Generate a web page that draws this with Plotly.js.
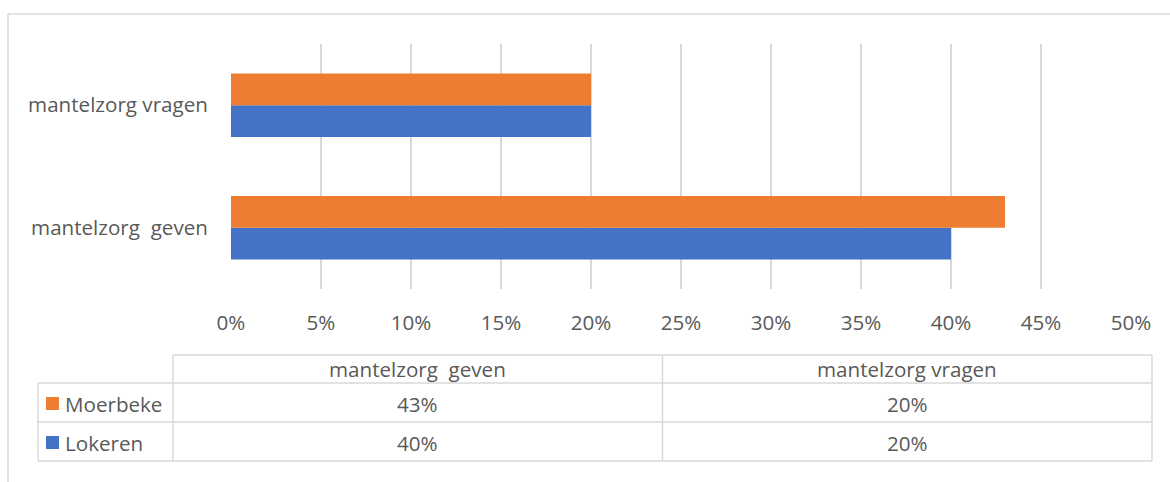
<!DOCTYPE html>
<html>
<head>
<meta charset="utf-8">
<script src="https://cdn.plot.ly/plotly-3.0.1.min.js"></script>
<style>
html,body{margin:0;padding:0;background:#fff;}
#chart{width:1170px;height:482px;}
</style>
</head>
<body>
<div id="chart"></div>
<script>
// ---- data ----
const categories = ['mantelzorg  geven', 'mantelzorg vragen'];
const seriesNames = ['Lokeren', 'Moerbeke'];
const lokeren = [0.40, 0.20];
const moerbeke = [0.43, 0.20];
const seriesColors = ['#4472C4', '#ED7D31'];
const tickValues = [0, 0.05, 0.10, 0.15, 0.20, 0.25, 0.30, 0.35, 0.40, 0.45, 0.50];
const tickLabels = ['0%', '5%', '10%', '15%', '20%', '25%', '30%', '35%', '40%', '45%', '50%'];

// keep repeated spaces visible in SVG text
const label = s => s.replace(/  /g, '\u00a0 ');
const pct = v => Math.round(v * 100) + '%';

const W = 1170, H = 482;
const M = {l: 231, r: 39, t: 44, b: 193};
const plotW = W - M.l - M.r, plotH = H - M.t - M.b;
const px = x => (x - M.l) / plotW;          // pixel x -> paper
const py = y => (H - M.b - y) / plotH;      // pixel y -> paper

const textColor = '#595959';
const lineColor = '#d9d9d9';
const font = {family: '"Open Sans", sans-serif', size: 20.6, color: textColor};

const traces = [
  {type: 'bar', orientation: 'h', name: seriesNames[0], y: categories.map(label), x: lokeren,
   marker: {color: seriesColors[0]}, hoverinfo: 'none'},
  {type: 'bar', orientation: 'h', name: seriesNames[1], y: categories.map(label), x: moerbeke,
   marker: {color: seriesColors[1]}, hoverinfo: 'none'}
];

// ---- data table below the chart ----
const tbl = {left: 38, legRight: 173, right: 1152, headTop: 355, rows: [383, 422, 461]};
const colEdges = [tbl.legRight];
for (let i = 1; i <= categories.length; i++) {
  colEdges.push(tbl.legRight + (tbl.right - tbl.legRight) * i / categories.length);
}
const shapes = [];
const ln = (x0, y0, x1, y1, color, w) => shapes.push({type: 'line', xref: 'paper', yref: 'paper',
  x0: px(x0), y0: py(y0), x1: px(x1), y1: py(y1), line: {color: color || lineColor, width: w || 1.5}});
// outer frame
ln(8, 14, 1170, 14);
ln(8, 14, 8, 482);
// table lines
ln(tbl.legRight, tbl.headTop, tbl.right, tbl.headTop);
tbl.rows.forEach(y => ln(tbl.left, y, tbl.right, y));
ln(tbl.left, tbl.rows[0], tbl.left, tbl.rows[2]);
colEdges.forEach(x => ln(x, tbl.headTop, x, tbl.rows[2]));

const annotations = [];
const ann = (x, y, text, xanchor) => annotations.push({xref: 'paper', yref: 'paper', x: px(x), y: py(y),
  text: text, showarrow: false, xanchor: xanchor || 'center', yanchor: 'middle', font: font});
// header row
categories.forEach((c, i) => ann((colEdges[i] + colEdges[i + 1]) / 2, (tbl.headTop + tbl.rows[0]) / 2, label(c)));
// data rows: Moerbeke first, then Lokeren
const rowSeries = [[seriesNames[1], moerbeke, seriesColors[1]], [seriesNames[0], lokeren, seriesColors[0]]];
rowSeries.forEach((r, ri) => {
  const yTop = tbl.rows[ri], yBot = tbl.rows[ri + 1];
  const yc = (yTop + yBot) / 2;
  shapes.push({type: 'rect', xref: 'paper', yref: 'paper', x0: px(46), x1: px(59),
    y0: py(yc - 5.5), y1: py(yc + 7.5), fillcolor: r[2], line: {width: 0}});
  ann(63, yc + 1, r[0], 'left');
  r[1].forEach((v, i) => ann((colEdges[i] + colEdges[i + 1]) / 2, yc + 1, pct(v)));
});

const layout = {
  width: W, height: H,
  margin: M,
  paper_bgcolor: '#fff', plot_bgcolor: '#fff',
  font: font,
  showlegend: false,
  barmode: 'group',
  bargap: 0.48, bargroupgap: 0,
  xaxis: {range: [0, 0.5], tickvals: tickValues, ticktext: tickLabels,
    showgrid: true, gridcolor: lineColor, gridwidth: 1.5, zeroline: false, showline: false,
    ticks: 'outside', ticklen: 15, tickcolor: 'rgba(0,0,0,0)', tickfont: font, fixedrange: true},
  yaxis: {type: 'category', showgrid: false, zeroline: false, showline: false,
    ticks: 'outside', ticklen: 18, tickcolor: 'rgba(0,0,0,0)', tickfont: font, fixedrange: true},
  shapes: shapes,
  annotations: annotations
};

Plotly.newPlot('chart', traces, layout, {displayModeBar: false, staticPlot: true});
</script>
</body>
</html>
